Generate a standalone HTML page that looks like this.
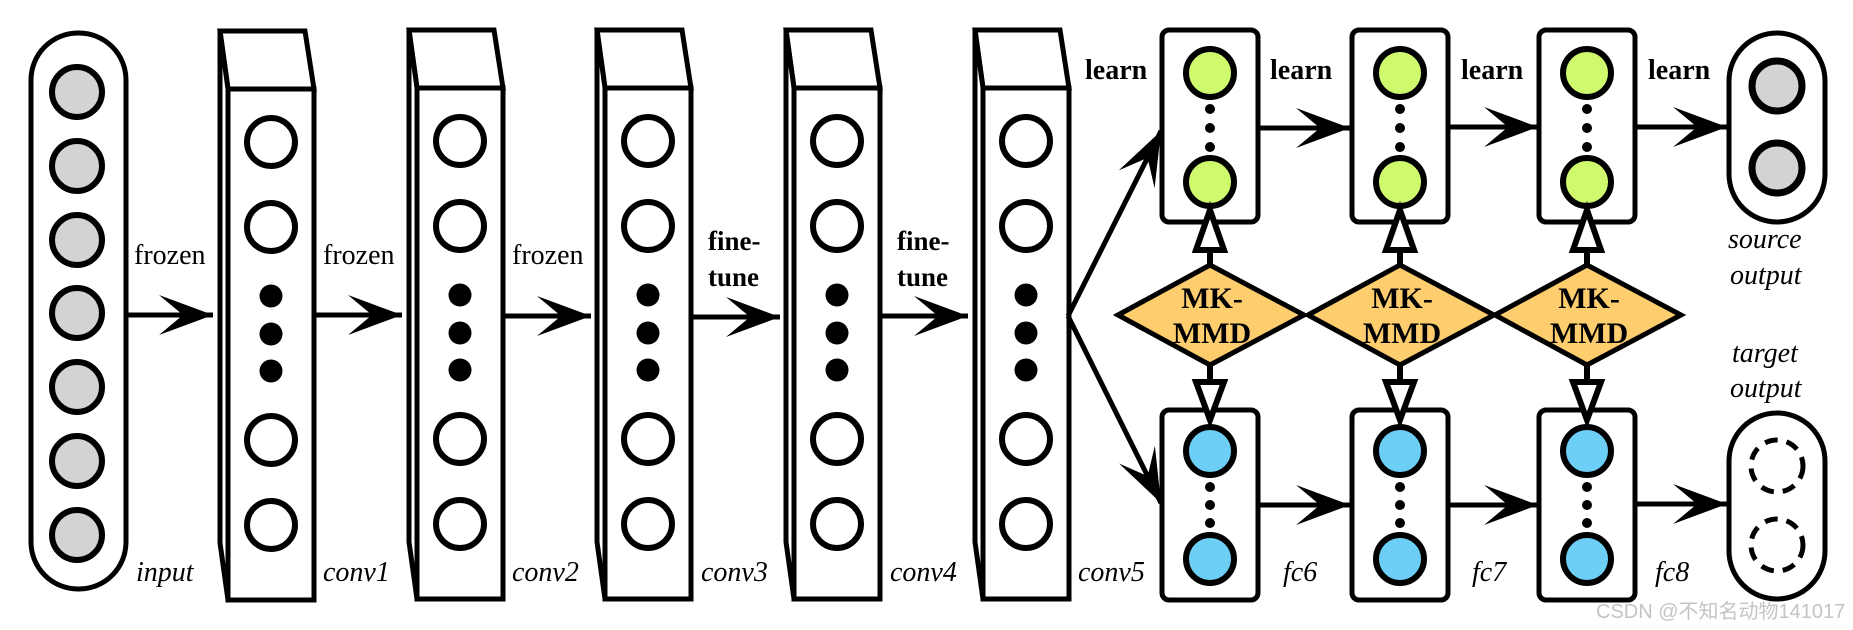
<!DOCTYPE html>
<html><head><meta charset="utf-8"><style>
html,body{margin:0;padding:0;background:#fff;}
svg{display:block;}
text{font-family:"Liberation Serif",serif;}
</style></head><body>
<svg width="1853" height="630" viewBox="0 0 1853 630" xmlns="http://www.w3.org/2000/svg">
<defs>
<marker id="ah" markerUnits="userSpaceOnUse" markerWidth="60" markerHeight="50" refX="54" refY="20" orient="auto">
<path d="M54,20 L0,0 L24,20 L0,40 Z" fill="#000"/>
</marker>
<g id="blk">
<polygon points="-8,-58 77,-58 86,0 0,0" fill="#fff" stroke="#000" stroke-width="5" stroke-linejoin="miter"/>
<polygon points="-8,-58 0,0 0,511 -8,454" fill="#fff" stroke="#000" stroke-width="5"/>
<rect x="0" y="0" width="86" height="511" fill="#fff" stroke="#000" stroke-width="5"/>
<circle cx="43" cy="53" r="24" fill="#fff" stroke="#000" stroke-width="6"/>
<circle cx="43" cy="138" r="24" fill="#fff" stroke="#000" stroke-width="6"/>
<circle cx="43" cy="207" r="11.5"/>
<circle cx="43" cy="245" r="11.5"/>
<circle cx="43" cy="282" r="11.5"/>
<circle cx="43" cy="351" r="24" fill="#fff" stroke="#000" stroke-width="6"/>
<circle cx="43" cy="436" r="24" fill="#fff" stroke="#000" stroke-width="6"/>
</g>
<g id="fcT">
<rect x="-48" y="0" width="96" height="192" rx="7" fill="#fff" stroke="#000" stroke-width="5"/>
<circle cx="0" cy="43" r="24" fill="#d0fa6e" stroke="#000" stroke-width="6"/>
<circle cx="0" cy="79" r="5"/><circle cx="0" cy="98" r="5"/><circle cx="0" cy="117" r="5"/>
<circle cx="0" cy="152" r="24" fill="#d0fa6e" stroke="#000" stroke-width="6"/>
</g>
<g id="fcB">
<rect x="-48" y="0" width="96" height="190" rx="7" fill="#fff" stroke="#000" stroke-width="5"/>
<circle cx="0" cy="41" r="24" fill="#6dcff6" stroke="#000" stroke-width="6"/>
<circle cx="0" cy="77" r="5"/><circle cx="0" cy="95" r="5"/><circle cx="0" cy="113" r="5"/>
<circle cx="0" cy="149" r="24" fill="#6dcff6" stroke="#000" stroke-width="6"/>
</g>
<g id="mmd">
<line x1="0" y1="-50" x2="0" y2="-68" stroke="#000" stroke-width="6"/>
<polygon points="0,-105 -14,-65 14,-65" fill="#fff" stroke="#000" stroke-width="6"/>
<line x1="0" y1="50" x2="0" y2="68" stroke="#000" stroke-width="6"/>
<polygon points="0,105 -14,67 14,67" fill="#fff" stroke="#000" stroke-width="6"/>
<polygon points="-92,0 0,-50 94,0 0,50" fill="#fdcd6e" stroke="#000" stroke-width="5"/>
<text x="2" y="-7" font-size="30" font-weight="bold" text-anchor="middle">MK-</text>
<text x="2" y="28" font-size="30" font-weight="bold" text-anchor="middle">MMD</text>
</g>
</defs>

<!-- input -->
<rect x="31" y="33" width="95" height="556" rx="47" fill="#fff" stroke="#000" stroke-width="5"/>
<g fill="#d3d3d3" stroke="#000" stroke-width="6">
<circle cx="77" cy="92" r="25"/><circle cx="77" cy="166" r="25"/><circle cx="77" cy="240" r="25"/>
<circle cx="77" cy="313" r="25"/><circle cx="77" cy="387" r="25"/><circle cx="77" cy="461" r="25"/>
<circle cx="77" cy="535" r="25"/>
</g>
<text x="136" y="581" font-size="28" font-style="italic">input</text>

<use href="#blk" x="228" y="89"/>
<use href="#blk" x="417" y="88"/>
<use href="#blk" x="605" y="88"/>
<use href="#blk" x="794" y="88"/>
<use href="#blk" x="983" y="88"/>

<g font-size="28" font-style="italic">
<text x="323" y="581">conv1</text>
<text x="512" y="581">conv2</text>
<text x="701" y="581">conv3</text>
<text x="890" y="581">conv4</text>
<text x="1078" y="581">conv5</text>
<text x="1283" y="581">fc6</text>
<text x="1472" y="581">fc7</text>
<text x="1655" y="581">fc8</text>
<text x="1728" y="248">source</text>
<text x="1730" y="284">output</text>
<text x="1732" y="362">target</text>
<text x="1730" y="397">output</text>
</g>

<g stroke="#000" stroke-width="5" marker-end="url(#ah)">
<line x1="124" y1="315" x2="213" y2="315"/>
<line x1="313" y1="315" x2="402" y2="315"/>
<line x1="502" y1="316" x2="591" y2="316"/>
<line x1="690" y1="317" x2="780" y2="317"/>
<line x1="880" y1="316" x2="968" y2="316"/>
<line x1="1068" y1="316" x2="1161" y2="131"/>
<line x1="1068" y1="316" x2="1161" y2="503"/>
<line x1="1258" y1="128" x2="1350" y2="128"/>
<line x1="1448" y1="127" x2="1538" y2="127"/>
<line x1="1636" y1="127" x2="1727" y2="127"/>
<line x1="1258" y1="505" x2="1350" y2="505"/>
<line x1="1448" y1="505" x2="1538" y2="505"/>
<line x1="1636" y1="504" x2="1727" y2="504"/>
</g>

<g font-size="28">
<text x="134" y="264">frozen</text>
<text x="323" y="264">frozen</text>
<text x="512" y="264">frozen</text>
</g>
<g font-size="27" font-weight="bold">
<text x="708" y="250">fine-</text><text x="708" y="286">tune</text>
<text x="897" y="250">fine-</text><text x="897" y="286">tune</text>
<text x="1085" y="79" font-size="28">learn</text>
<text x="1270" y="79" font-size="28">learn</text>
<text x="1461" y="79" font-size="28">learn</text>
<text x="1648" y="79" font-size="28">learn</text>
</g>

<use href="#fcT" x="1210" y="30"/>
<use href="#fcT" x="1400" y="30"/>
<use href="#fcT" x="1587" y="30"/>
<use href="#fcB" x="1210" y="410"/>
<use href="#fcB" x="1400" y="410"/>
<use href="#fcB" x="1587" y="410"/>

<use href="#mmd" x="1210" y="315"/>
<use href="#mmd" x="1400" y="315"/>
<use href="#mmd" x="1587" y="315"/>

<!-- outputs -->
<rect x="1729" y="33" width="96" height="189" rx="48" fill="#fff" stroke="#000" stroke-width="5"/>
<circle cx="1777" cy="86" r="25" fill="#d3d3d3" stroke="#000" stroke-width="7"/>
<circle cx="1777" cy="168" r="25" fill="#d3d3d3" stroke="#000" stroke-width="7"/>
<rect x="1729" y="413" width="96" height="186" rx="48" fill="#fff" stroke="#000" stroke-width="5"/>
<circle cx="1777" cy="466" r="26" fill="none" stroke="#000" stroke-width="5" stroke-dasharray="13,9"/>
<circle cx="1777" cy="545" r="26" fill="none" stroke="#000" stroke-width="5" stroke-dasharray="13,9"/>

<text x="1596" y="618" font-size="20" fill="#c4c4c4" style="font-family:'Liberation Sans','Noto Sans CJK SC',sans-serif">CSDN @不知名动物141017</text>
</svg>
</body></html>
